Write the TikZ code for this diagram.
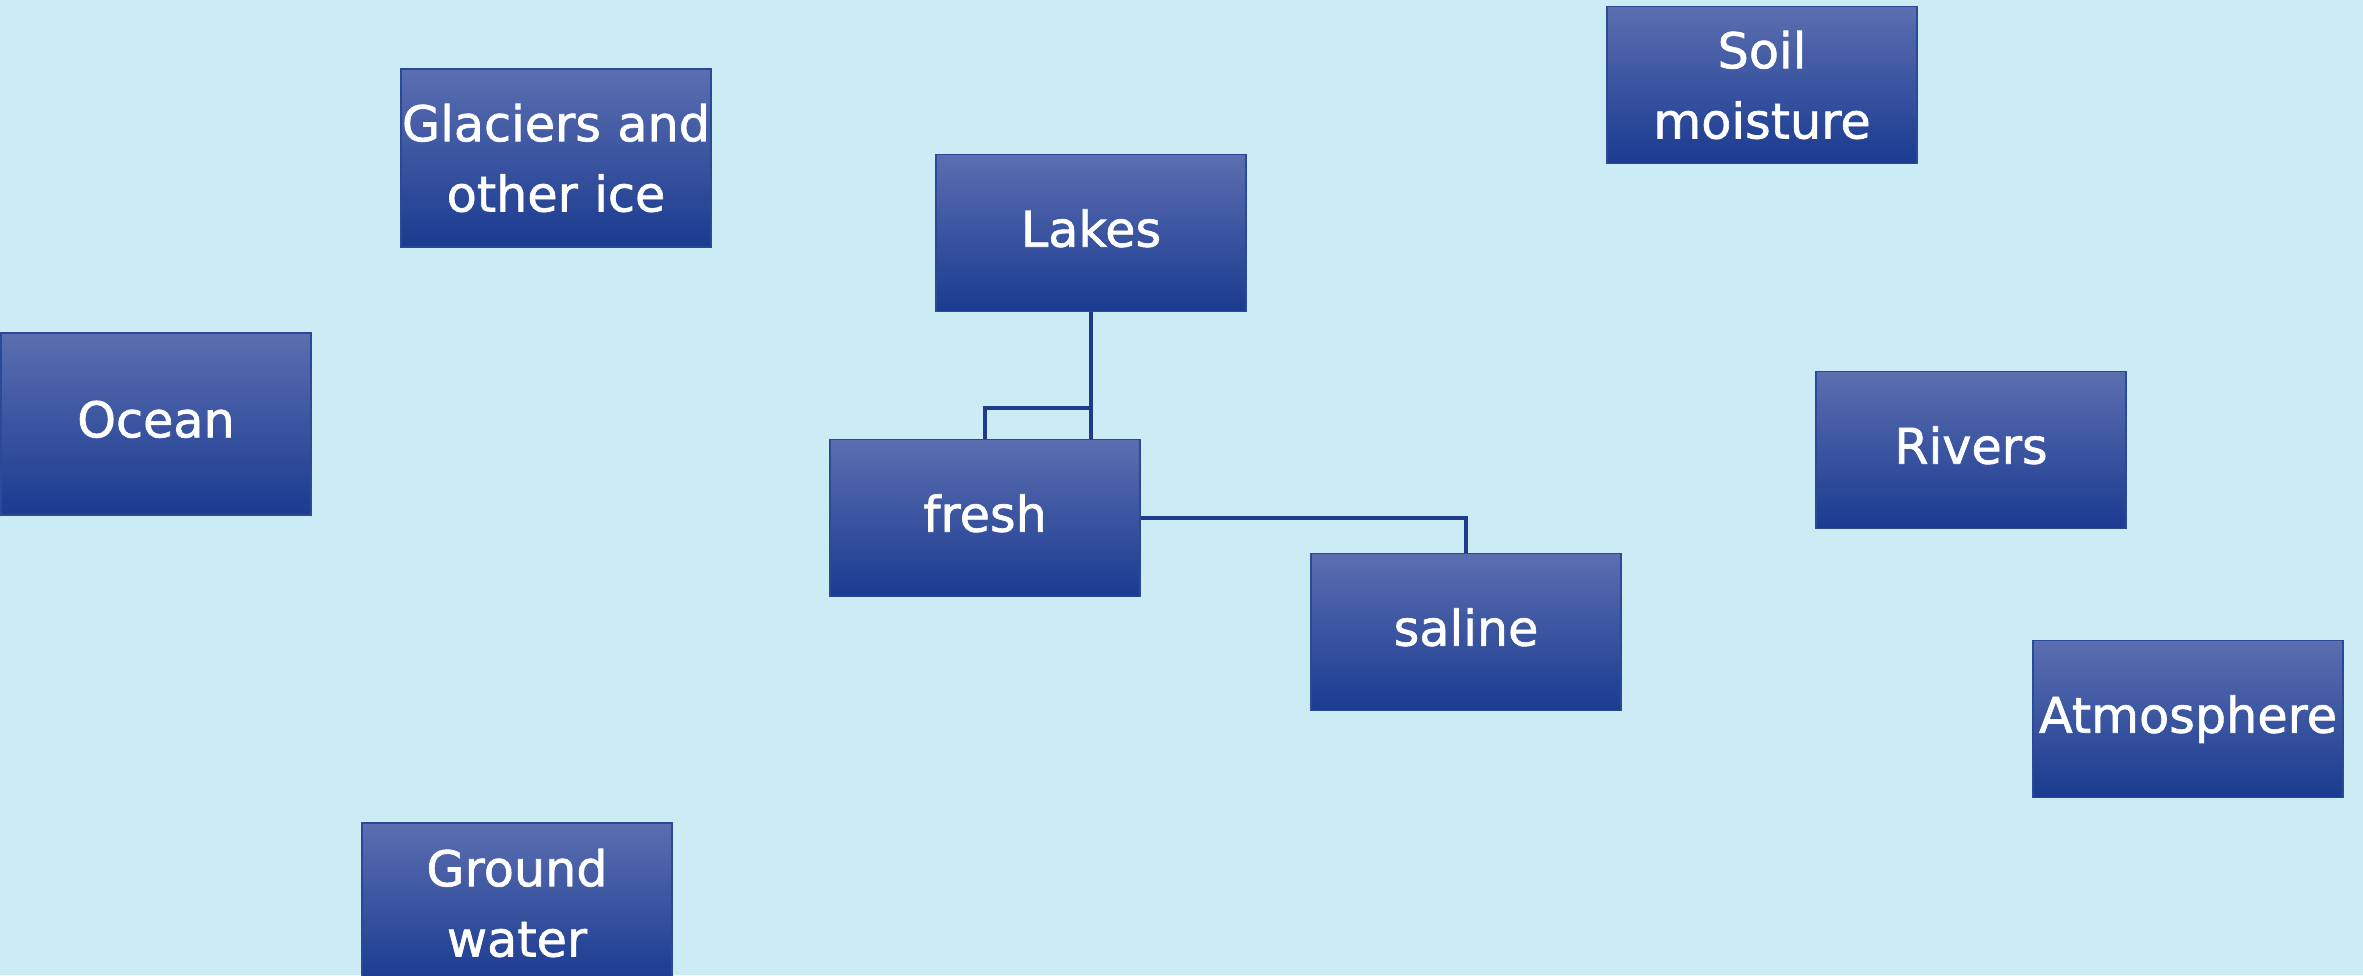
\documentclass[tikz,border=0pt]{standalone}
\usepackage{fontspec}
\setmainfont[FakeBold=1.3]{DejaVu Sans}
\usepackage{tikz}
\usetikzlibrary{positioning}
\definecolor{skybg}{HTML}{CBECF4}
\definecolor{boxtop}{HTML}{5B6EB0}
\definecolor{boxbot}{HTML}{1A3B90}
\definecolor{boxedge}{HTML}{2A4A98}
\definecolor{linkblue}{HTML}{1E3C8C}
\tikzstyle{store} = [rectangle, minimum width=3.1cm, minimum height=1.57cm, inner sep=0pt, text width=3.08cm, text centered, align=center, draw=boxedge, line width=0.5pt, top color=boxtop, bottom color=boxbot, text=white, font=\fontsize{14}{20}\selectfont]
\tikzstyle{oneline} = [store, text depth=0.1cm]
\tikzstyle{link} = [draw=linkblue, line width=0.9pt]

\begin{document}
\begin{tikzpicture}[x=0.01cm, y=-0.01cm]

\fill[skybg] (0,0) rectangle (2363,975);
\clip (0,0) rectangle (2363,975);

\node at (556,158) (glaciers) [store, minimum height=1.78cm] {Glaciers and\\other ice};
\node at (1762,85) (soil) [store] {Soil\\moisture};
\node at (1091,233) (lakes) [oneline] {Lakes};
\node at (156,424) (ocean) [oneline, minimum height=1.82cm] {Ocean};
\node at (985,518) (fresh) [oneline] {fresh};
\node at (1971,450) (rivers) [oneline] {Rivers};
\node at (1466,632) (saline) [oneline] {saline};
\node at (2188,719) (atmos) [oneline] {Atmosphere};
\node at (517,903) (ground) [store, minimum height=1.6cm] {Ground\\water};

% lakes branches
\coordinate (split) at (1091,408);
\draw[link] (lakes.south) -- (lakes.south |- fresh.north);
\draw[link] (split) -| (fresh.north);
\draw[link] (fresh.east) -| (saline.north);

\end{tikzpicture}
\end{document}
